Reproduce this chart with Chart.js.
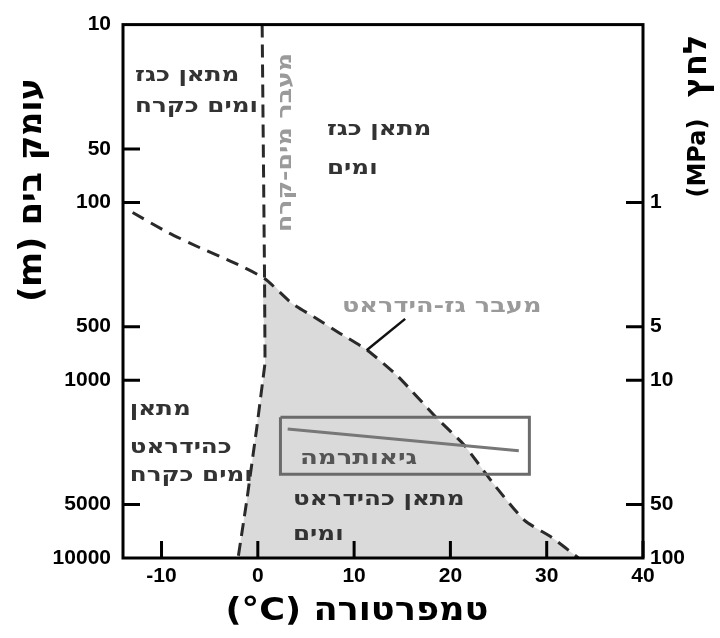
<!DOCTYPE html>
<html><head><meta charset="utf-8">
<script src="https://cdn.jsdelivr.net/npm/chart.js@4.4.1/dist/chart.umd.min.js"></script>
<style>html,body{margin:0;padding:0;background:#fff;}canvas{display:block;}</style>
</head><body>
<canvas id="c" width="720" height="638"></canvas>
<script>
// ---- tick labels ----
const xTicks = [-10, 0, 10, 20, 30, 40];
const depthTicks = [10, 50, 100, 500, 1000, 5000, 10000];
const pressureTicks = [1, 5, 10, 50, 100];

// ---- gas-hydrate transition curve (temperature °C, depth m) ----
const hydrateT = [-13, -9.4, -6.0, -2.5, 0.7, 3.5, 5.8, 8.5, 11.4, 14.5, 18.7, 21.4, 24.5, 27.7, 30.5, 33.3];
const hydrateD = [114, 147, 180, 218, 268, 368, 440, 544, 680, 946, 1656, 2307, 3840, 6150, 7640, 10000];

// ---- water-ice transition line ----
const iceT = [0.45, 0.7, 0.75, -0.12, -1.15, -2.05];
const iceD = [10, 268, 800, 1875, 4775, 10000];

// ---- geotherm and its frame ----
const geoT = [3.1, 27.1];
const geoD = [1884, 2490];
const boxT = [2.35, 28.2, 28.2, 2.35, 2.35];
const boxD = [1615, 1615, 3380, 3380, 1615];

// ---- pointer from label to curve ----
const ptrT = [15.3, 11.3];
const ptrD = [452, 679];

const pts = (xs, ys) => xs.map((v, i) => ({x: v, y: ys[i]}));

// stability field polygon built from the two boundaries
const iceBelow = pts(iceT, iceD).filter(p => p.y >= 268).reverse();
const hydBelow = pts(hydrateT, hydrateD).filter(p => p.y > 268);
const fieldPts = iceBelow.concat(hydBelow);

const tickFont = {family: '"Liberation Sans", Arial, sans-serif', size: 21, weight: 'bold'};

function txt(ctx, text, px, py, o) {
  ctx.save();
  ctx.font = o.font; ctx.fillStyle = o.color || '#000';
  ctx.direction = o.dir || 'rtl';
  ctx.textAlign = o.align || 'left';
  ctx.textBaseline = o.base || 'alphabetic';
  ctx.translate(px, py);
  if (o.rot) ctx.rotate(o.rot);
  ctx.scale(o.sx || 1, 1);
  ctx.fillText(text, 0, 0);
  ctx.restore();
}

const labelFont = 'bold 20px "DejaVu Sans", sans-serif';
const regionLabels = [
  {t: 'מתאן כגז', T: -12.75, D: 20.7},
  {t: 'ומים כקרח', T: -12.75, D: 31.1},
  {t: 'מתאן כגז', T: 7.18, D: 41.7},
  {t: 'ומים', T: 7.18, D: 69.3},
  {t: 'מתאן', T: -13.3, D: 1574},
  {t: 'כהידראט', T: -13.3, D: 2558},
  {t: 'ומים כקרח', T: -13.3, D: 3698},
  {t: 'מתאן כהידראט', T: 3.65, D: 5025},
  {t: 'ומים', T: 3.65, D: 7943}
];

const decor = {
  id: 'decor',
  afterDatasetsDraw(chart) {
    const {ctx, chartArea: a, scales: {x, y, y2}} = chart;
    ctx.save();
    ctx.strokeStyle = '#000'; ctx.lineWidth = 3; ctx.lineCap = 'butt';
    ctx.beginPath();
    xTicks.forEach(v => { const p = x.getPixelForValue(v); ctx.moveTo(p, a.bottom); ctx.lineTo(p, a.bottom - 17); });
    depthTicks.forEach(v => { if (v === 10 || v === 10000) return; const p = y.getPixelForValue(v); ctx.moveTo(a.left, p); ctx.lineTo(a.left + 17, p); });
    pressureTicks.forEach(v => { if (v === 100) return; const p = y2.getPixelForValue(v); ctx.moveTo(a.right, p); ctx.lineTo(a.right - 17, p); });
    ctx.stroke();
    ctx.strokeRect(a.left, a.top, a.width, a.height);
    ctx.restore();

    regionLabels.forEach(l => txt(ctx, l.t, x.getPixelForValue(l.T), y.getPixelForValue(l.D), {font: labelFont, color: '#333', sx: 1.23}));
    txt(ctx, 'מעבר מים-קרח', x.getPixelForValue(2.93), y.getPixelForValue(46), {font: labelFont, color: '#9a9a9a', align: 'center', base: 'middle', rot: -Math.PI / 2, sx: 1.26});
    txt(ctx, 'מעבר גז-הידראט', x.getPixelForValue(8.74), y.getPixelForValue(413), {font: labelFont, color: '#9a9a9a', sx: 1.28});
    txt(ctx, 'גיאותרמה', x.getPixelForValue(4.38), y.getPixelForValue(2979), {font: labelFont, color: '#555', sx: 1.3});

    // axis titles
    const tf = 'bold 32px "DejaVu Sans", sans-serif';
    txt(ctx, 'עומק בים (m)', 33, 190, {font: tf, align: 'center', base: 'middle', rot: -Math.PI / 2, sx: 1.04});
    txt(ctx, 'לחץ', 698, 66, {font: tf, align: 'center', base: 'middle', rot: -Math.PI / 2});
    txt(ctx, '(MPa)', 699, 158, {font: 'bold 24px "DejaVu Sans", sans-serif', dir: 'ltr', align: 'center', base: 'middle', rot: -Math.PI / 2});
    txt(ctx, '(°C) טמפרטורה', 357, 612, {font: tf, dir: 'ltr', align: 'center', base: 'middle', sx: 1.1});
  }
};

new Chart(document.getElementById('c'), {
  type: 'scatter',
  data: {
    datasets: [
      {data: pts(ptrT, ptrD), showLine: true, borderColor: '#111', borderWidth: 2.5, pointRadius: 0, yAxisID: 'y', order: 1},
      {data: pts(geoT, geoD), showLine: true, borderColor: '#777', borderWidth: 3, pointRadius: 0, yAxisID: 'y', order: 2},
      {data: pts(boxT, boxD), showLine: true, borderColor: '#6b6b6b', borderWidth: 3, pointRadius: 0, yAxisID: 'y', order: 3},
      {data: pts(hydrateT, hydrateD), showLine: true, borderColor: '#2a2a2a', borderWidth: 3, borderDash: [13, 8], pointRadius: 0, tension: 0.2, yAxisID: 'y', order: 4},
      {data: pts(iceT, iceD), showLine: true, borderColor: '#2a2a2a', borderWidth: 3, borderDash: [13, 7], pointRadius: 0, yAxisID: 'y', order: 5},
      {data: fieldPts, showLine: true, borderWidth: 0, borderColor: 'rgba(0,0,0,0)', backgroundColor: '#dadada', fill: {value: 10000}, pointRadius: 0, tension: 0.2, yAxisID: 'y', order: 10}
    ]
  },
  options: {
    responsive: false, animation: false, devicePixelRatio: 1,
    layout: {padding: {top: 16, left: 0, right: 0, bottom: 0}},
    plugins: {legend: {display: false}, tooltip: {enabled: false}},
    scales: {
      x: {
        type: 'linear', min: -14, max: 40, position: 'bottom',
        afterBuildTicks: s => { s.ticks = xTicks.map(v => ({value: v})); },
        afterFit: s => { s.height = 80; },
        grid: {display: false, drawTicks: false}, border: {display: false},
        ticks: {padding: 6, font: tickFont, color: '#000', autoSkip: false, maxRotation: 0, callback: v => String(v)}
      },
      y: {
        type: 'logarithmic', reverse: true, min: 10, max: 10000, position: 'left',
        afterBuildTicks: s => { s.ticks = depthTicks.map(v => ({value: v})); },
        afterFit: s => { s.width = 123; },
        grid: {display: false, drawTicks: false}, border: {display: false},
        ticks: {padding: 12, font: tickFont, color: '#000', autoSkip: false, callback: v => String(v)}
      },
      y2: {
        type: 'logarithmic', reverse: true, min: 0.1, max: 100, position: 'right',
        afterBuildTicks: s => { s.ticks = pressureTicks.map(v => ({value: v})); },
        afterFit: s => { s.width = 77; },
        grid: {display: false, drawTicks: false}, border: {display: false},
        ticks: {padding: 7, font: tickFont, color: '#000', autoSkip: false, callback: v => String(v)}
      }
    }
  },
  plugins: [decor]
});
</script>
</body></html>
